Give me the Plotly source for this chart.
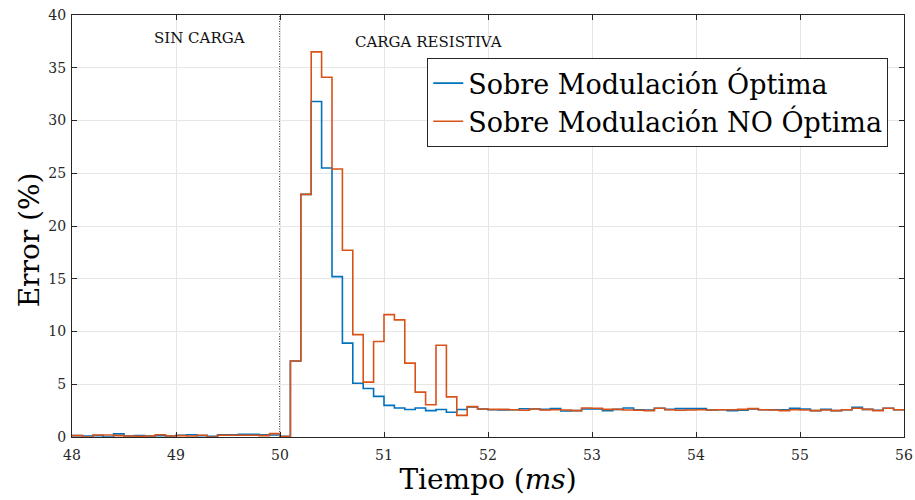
import numpy as np
import plotly.graph_objects as go

# Sample start times (ms), one value per 0.1 ms interval
t_start = np.round(np.arange(48.0, 56.0, 0.1), 1)

err_optima = [
    0.13, 0.10, 0.13, 0.00, 0.30, 0.10, 0.13, 0.10, 0.13, 0.10,
    0.17, 0.22, 0.13, 0.06, 0.22, 0.22, 0.25, 0.25, 0.22, 0.19,
    0.06, 7.2, 23.0, 31.8, 25.5, 15.2, 8.9, 5.1, 4.6, 3.85,
    3.0, 2.75, 2.6, 2.75, 2.5, 2.6, 2.35, 2.6, 2.85, 2.65,
    2.59, 2.56, 2.59, 2.68, 2.65, 2.62, 2.69, 2.46, 2.50, 2.65,
    2.65, 2.50, 2.62, 2.75, 2.59, 2.56, 2.72, 2.62, 2.69, 2.69,
    2.69, 2.56, 2.59, 2.50, 2.55, 2.65, 2.59, 2.59, 2.59, 2.72,
    2.65, 2.50, 2.62, 2.50, 2.59, 2.81, 2.62, 2.53, 2.72, 2.59,
]

err_no_optima = [
    0.13, 0.00, 0.19, 0.19, 0.13, 0.10, 0.06, 0.10, 0.22, 0.10,
    0.13, 0.10, 0.16, 0.00, 0.16, 0.16, 0.16, 0.16, 0.13, 0.32,
    0.05, 7.2, 23.0, 36.5, 34.1, 25.4, 17.7, 9.7, 5.2, 9.05,
    11.6, 11.1, 7.0, 4.25, 3.05, 8.7, 3.8, 2.05, 2.88, 2.65,
    2.62, 2.62, 2.59, 2.53, 2.65, 2.56, 2.59, 2.56, 2.50, 2.75,
    2.72, 2.62, 2.62, 2.56, 2.53, 2.50, 2.72, 2.59, 2.53, 2.56,
    2.59, 2.56, 2.59, 2.59, 2.62, 2.69, 2.59, 2.56, 2.50, 2.59,
    2.56, 2.50, 2.56, 2.50, 2.59, 2.72, 2.62, 2.50, 2.72, 2.59,
]

t_end = 56.0
x_ticks = [48, 49, 50, 51, 52, 53, 54, 55, 56]
y_ticks = [0, 5, 10, 15, 20, 25, 30, 35, 40]
t_switch = 50.0

FONT = "DejaVu Serif"
AXIS_COLOR = "#262626"
GRID_COLOR = "#e6e6e6"


def stairs(values):
    # hold the last sample until the end of the window
    x = list(t_start) + [t_end]
    y = list(values) + [values[-1]]
    return x, y


fig = go.Figure()

xo, yo = stairs(err_optima)
fig.add_trace(go.Scatter(
    x=xo, y=yo, mode="lines", line_shape="hv",
    line=dict(color="#0072BD", width=1.6),
    name="Sobre Modulación Óptima",
))

xn, yn = stairs(err_no_optima)
fig.add_trace(go.Scatter(
    x=xn, y=yn, mode="lines", line_shape="hv",
    line=dict(color="#D95319", width=1.6),
    name="Sobre Modulación NO Óptima",
))

# load switching instant
fig.add_shape(
    type="line", x0=t_switch, x1=t_switch, y0=0, y1=40,
    xref="x", yref="y", line=dict(color="black", width=1.4, dash="1px,1.5px"),
    layer="below",
)

fig.add_annotation(x=49.23, y=37.8, text="SIN CARGA", showarrow=False,
                   font=dict(family=FONT, size=15, color="#111111"))
fig.add_annotation(x=51.43, y=37.4, text="CARGA RESISTIVA", showarrow=False,
                   font=dict(family=FONT, size=15, color="#111111"))

# y-axis title
fig.add_annotation(x=-0.05, y=0.467, xref="paper", yref="paper",
                   xanchor="center", yanchor="middle",
                   text="Error (%)", textangle=-90, showarrow=False,
                   font=dict(family=FONT, size=28, color="black"))

axis_common = dict(
    showline=True, linecolor=AXIS_COLOR, linewidth=1, mirror="ticks",
    ticks="inside", ticklen=5, tickcolor=AXIS_COLOR,
    showgrid=True, gridcolor=GRID_COLOR, gridwidth=1,
    zeroline=False, automargin=False,
    tickfont=dict(family=FONT, size=14, color=AXIS_COLOR),
)

fig.update_xaxes(
    range=[48, 56], tickvals=x_ticks, ticklabelstandoff=5,
    title=dict(text="Tiempo (<i>ms</i>)", font=dict(family=FONT, size=28, color="black"),
               standoff=4),
    **axis_common,
)
fig.update_yaxes(range=[0, 40], tickvals=y_ticks, ticklabelstandoff=2, **axis_common)

fig.update_layout(
    width=915, height=500,
    margin=dict(l=72, r=11, t=15, b=63),
    plot_bgcolor="white", paper_bgcolor="white",
    legend=dict(
        x=0.427, y=0.898, xanchor="left", yanchor="top",
        bgcolor="white", bordercolor="#262626", borderwidth=1,
        font=dict(family=FONT, size=27, color="black"),
        itemwidth=30, tracegroupgap=0,
    ),
    showlegend=True,
)

fig.write_html("out.html")
